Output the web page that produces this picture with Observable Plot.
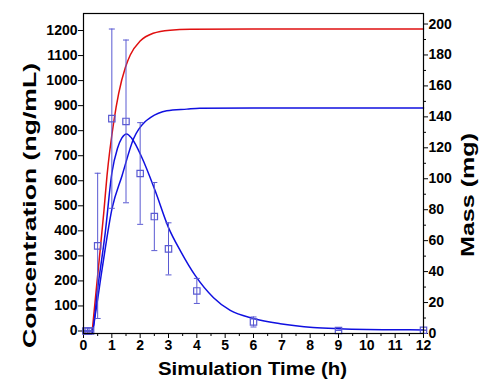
<!DOCTYPE html>
<html><head><meta charset="utf-8">
<script src="https://cdn.jsdelivr.net/npm/d3@7"></script>
<script src="https://cdn.jsdelivr.net/npm/@observablehq/plot@0.6"></script>
<style>body{margin:0;background:#fff}</style>
</head><body><div id="chart"></div>
<script>
// Observed concentrations (ng/mL) with error bars
const obsTime = [0.083, 0.167, 0.25, 0.5, 1, 1.5, 2, 2.5, 3, 4, 6, 9, 12];
const obsConc = [0, 0, 0, 340, 848, 837, 629, 457, 328, 160, 36, 2, 3];
const obsErr  = [0, 0, 0, 290, 358, 325, 203, 136, 104, 50, 20, 0, 0];

// Simulated concentration (ng/mL)
const concTime = [0, 0.25, 0.31, 0.5, 0.77, 1.0, 1.2, 1.35, 1.52, 1.7, 2.06, 2.53, 3.0, 3.42, 3.94, 4.59, 5.18, 6.0, 6.94, 8.1, 9, 10, 11, 12];
const concSim  = [0, 0, 0, 170, 395, 630, 730, 770, 787, 770, 693, 560, 413, 320, 222, 133, 82, 50, 29, 14, 9, 6, 5, 4];

// Simulated cumulative mass, red (mg)
const redTime = [0, 0.3, 0.31, 0.54, 0.72, 0.83, 1.07, 1.24, 1.48, 1.65, 2.0, 2.46, 3.06, 3.77, 6, 12];
const redMass = [0, 0, 2, 45, 79, 102, 137, 155, 172, 180, 189, 194, 196, 196.6, 196.8, 196.8];

// Simulated cumulative mass, blue (mg)
const blueTime = [0, 0.3, 0.42, 0.66, 1.01, 1.36, 1.77, 2.18, 2.36, 2.94, 3.65, 4.1, 6, 12];
const blueMass = [0, 0, 12.7, 42, 81, 102, 126, 137, 139.5, 143.9, 145, 145.6, 145.8, 145.8];

// Tick labels
const timeTicks = [0,1,2,3,4,5,6,7,8,9,10,11,12];
const concTicks = [0,100,200,300,400,500,600,700,800,900,1000,1100,1200];
const massTicks = [0,20,40,60,80,100,120,140,160,180,200];

// mapping of mass (right axis) onto the concentration scale
const Y0 = -10, K = 6.18;
const m2c = m => Y0 + m * K;
const c2m = c => String(Math.round((c - Y0) / K));

const obs = obsTime.map((t, i) => ({t, c: obsConc[i], e: obsErr[i]}));
const caps = obs.flatMap(d => [{t: d.t, c: d.c + d.e}, {t: d.t, c: d.c - d.e}]);
const conc = concTime.map((t, i) => ({t, c: concSim[i]}));
const red = redTime.map((t, i) => ({t, c: m2c(redMass[i])}));
const blue = blueTime.map((t, i) => ({t, c: m2c(blueMass[i])}));

const timeMinor = d3.range(0.5, 12, 1);
const massMinor = d3.range(10, 201, 20);

const capSymbol = {draw(ctx, size) { const r = Math.sqrt(size / Math.PI); ctx.moveTo(-r, 0); ctx.lineTo(r, 0); }};

const font = "Liberation Sans, Arial, sans-serif";
const obsColor = "#5a5ad2";
const blueColor = "#1010e0";

const svg = Plot.plot({
  width: 484, height: 383,
  marginLeft: 83, marginRight: 61, marginTop: 13, marginBottom: 50,
  style: {fontFamily: font, fontWeight: "bold", fontSize: "14px", background: "#fff", color: "#000"},
  x: {domain: [0, 12]},
  y: {domain: [-10, 1268]},
  marks: [
    Plot.axisX(timeTicks, {tickSize: 5, tickPadding: 2, fontSize: 14, fontWeight: "bold", label: null, tickFormat: d => String(d)}),
    Plot.axisX(timeMinor, {tickSize: 3, tickFormat: () => "", label: null}),
    Plot.axisY(concTicks, {anchor: "left", tickSize: 5, tickPadding: 1, fontSize: 14, fontWeight: "bold", label: null, tickFormat: d => String(d)}),
    Plot.axisY(massTicks.map(m2c), {anchor: "right", tickSize: 4, tickPadding: 1, fontSize: 14, fontWeight: "bold", label: null, tickFormat: c2m}),
    Plot.axisY(massMinor.map(m2c), {anchor: "right", tickSize: 2, tickFormat: () => "", label: null}),
    Plot.line(red, {x: "t", y: "c", stroke: "#e01010", strokeWidth: 1.5, curve: "monotone-x"}),
    Plot.line(blue, {x: "t", y: "c", stroke: blueColor, strokeWidth: 1.5, curve: "monotone-x"}),
    Plot.line(conc, {x: "t", y: "c", stroke: blueColor, strokeWidth: 1.5, curve: "monotone-x"}),
    Plot.ruleX(obs, {x: "t", y1: d => d.c - d.e, y2: d => d.c + d.e, stroke: obsColor, strokeWidth: 1}),
    Plot.dot(caps, {x: "t", y: "c", symbol: capSymbol, r: 3, stroke: obsColor, strokeWidth: 1}),
    Plot.dot(obs, {x: "t", y: "c", symbol: "square", r: 3.6, stroke: obsColor, fill: "none", strokeWidth: 1.2}),
    Plot.frame({stroke: "#000", strokeWidth: 1.2})
  ]
});

const s = d3.select(svg);
s.selectAll("text").attr("font-weight", "bold").attr("fill", "#000");
const title = (txt, x, y, rot, len) => s.append("text")
  .attr("transform", `translate(${x},${y})` + (rot ? " rotate(-90)" : ""))
  .attr("text-anchor", "middle")
  .attr("font-family", font).attr("font-weight", "bold").attr("font-size", 18)
  .attr("fill", "#000")
  .attr("textLength", len).attr("lengthAdjust", "spacingAndGlyphs")
  .text(txt);
title("Concentration (ng/mL)", 36, 205.5, true, 285);
title("Mass (mg)", 474, 195, true, 124);
title("Simulation Time (h)", 252.5, 375, false, 189);

document.getElementById("chart").appendChild(svg);
</script></body></html>
